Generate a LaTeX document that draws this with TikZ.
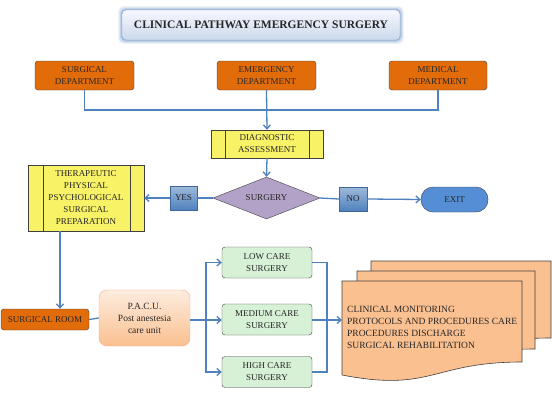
\documentclass[tikz,border=0pt]{standalone}
\usepackage{fontspec}
\setmainfont{Liberation Serif}
\usetikzlibrary{arrows.meta,shapes.geometric}
\definecolor{deptor}{HTML}{E36C0A}
\definecolor{lineblue}{HTML}{4F81BD}
\definecolor{yel}{HTML}{F8F266}
\definecolor{purp}{HTML}{B3A2C7}
\definecolor{grn}{HTML}{D7F1D6}
\definecolor{docor}{HTML}{FAC090}
\definecolor{exitb}{HTML}{558ED5}
\definecolor{edge}{HTML}{404040}
\definecolor{txt}{HTML}{262626}
\tikzset{
  base/.style={inner sep=0pt, align=center, font=\fontsize{9}{12}\selectfont, text=txt},
  dept/.style={base, draw=edge, fill=deptor, rounded corners=3pt, minimum width=99pt, minimum height=29pt},
  yelbox/.style={base, draw=edge, fill=yel},
  yn/.style={base, draw=lineblue!80!black, top color=lineblue!55!white, bottom color=lineblue, minimum width=27pt, minimum height=24pt},
  care/.style={base, draw=edge, fill=grn, rounded corners=3pt, minimum width=90pt, minimum height=31pt},
  line/.style={draw=lineblue, line width=1.3pt},
  arr/.style={line, -{Straight Barb[length=4pt,width=7pt]}},
  docshape/.style={draw=edge, fill=docor, line width=0.6pt},
}
\begin{document}
\begin{tikzpicture}[x=1pt,y=-1pt]
\useasboundingbox (0,0) rectangle (552,407);
\fill[white] (0,0) rectangle (552,407);

% title glow
\foreach \g/\o in {4/0.08,3/0.12,2/0.18,1/0.25}{
  \fill[lineblue, opacity=\o, rounded corners=5pt] (122-\g,10-\g) rectangle (400+\g,40+\g);
}
\node[base, draw=lineblue!70, top color=blue!3, bottom color=lineblue!30, rounded corners=4pt,
      minimum width=278pt, minimum height=30pt, font=\fontsize{11.5}{12}\selectfont\bfseries] (title) at (261,25) {CLINICAL PATHWAY EMERGENCY SURGERY};

% departments
\node[dept] (sd) at (84.5,75.5) {SURGICAL\\DEPARTMENT};
\node[dept] (ed) at (266.5,75.5) {EMERGENCY\\DEPARTMENT};
\node[dept, minimum width=98pt] (md) at (438,75.5) {MEDICAL\\DEPARTMENT};
\coordinate (j) at (266.5,110);

% diagnostic
\node[yelbox, minimum width=112pt, minimum height=28pt] (diag) at (267,144) {DIAGNOSTIC\\ASSESSMENT};
\draw[edge] ([xshift=14pt]diag.north west) -- ([xshift=14pt]diag.south west);
\draw[edge] ([xshift=-14pt]diag.north east) -- ([xshift=-14pt]diag.south east);

% decision
\node[base, shape=diamond, shape aspect=2.5, draw=edge, fill=purp, minimum width=107pt, minimum height=42pt] (surg) at (266.5,198) {SURGERY};

% therapeutic
\node[yelbox, minimum width=116pt, minimum height=66pt] (ther) at (86,198) {THERAPEUTIC\\PHYSICAL\\PSYCHOLOGICAL\\SURGICAL\\PREPARATION};
\draw[edge] ([xshift=15pt]ther.north west) -- ([xshift=15pt]ther.south west);
\draw[edge] ([xshift=-14pt]ther.north east) -- ([xshift=-14pt]ther.south east);

\node[yn] (yes) at (183.5,198) {YES};
\node[yn, minimum width=28pt] (no) at (353,199) {NO};
\node[base, draw=edge, fill=exitb, rounded corners=12pt, minimum width=67pt, minimum height=25pt] (exit) at (454.5,199.5) {EXIT};

% lower part
\node[base, draw=edge, fill=deptor, rounded corners=3pt, minimum width=88pt, minimum height=21pt] (room) at (45,319.5) {SURGICAL ROOM};
\node[base, draw=docor!90!red, top color=docor!30!white, bottom color=docor, rounded corners=8pt,
      minimum width=91pt, minimum height=56pt, font=\fontsize{9.5}{12}\selectfont] (pacu) at (144.5,318) {P.A.C.U.\\Post anestesia\\care unit};
\node[care] (low) at (267,262.5) {LOW CARE\\SURGERY};
\node[care] (med) at (267,319.5) {MEDIUM CARE\\SURGERY};
\node[care] (high) at (267,372) {HIGH CARE\\SURGERY};
\coordinate (bl) at (206,320);
\coordinate (br) at (327,320);

% documents
\draw[docshape] (371,261) -- (551,261) -- (551,338) .. controls (461,338) and (461,367) .. (371,352) -- cycle;
\draw[docshape] (357,271) -- (535,271) -- (535,349) .. controls (446,349) and (446,379) .. (357,361) -- cycle;
\draw[docshape] (342,281) -- (522,281) -- (522,362) .. controls (432,362) and (432,392.5) .. (342,375) -- cycle;
\coordinate (docin) at (342,320);
\node[base, anchor=west, align=left, font=\fontsize{9.5}{12}\selectfont] (doctext) at (347,327.5) {CLINICAL MONITORING\\PROTOCOLS AND PROCEDURES CARE\\PROCEDURES DISCHARGE\\SURGICAL REHABILITATION};

% connectors
\draw[line] (sd.south) |- (j) -| (md.south);
\draw[arr] (ed.south) -- (diag.north);
\draw[arr] (diag.south) -- (surg.north);
\draw[line] (surg.west) -- (yes.east);
\draw[arr] (yes.west) -- (ther.east);
\draw[line] (surg.east) -- (no.west);
\draw[arr] (no.east) -- (exit.west);
\draw[arr] ([xshift=-26pt]ther.south) -- ([xshift=-26pt]ther.south |- room.north);
\draw[line] (room.east) -- (pacu.west);
\draw[line] (pacu.east |- bl) -- (bl);
\draw[arr] (bl) |- (low.west);
\draw[arr] (bl) |- (high.west);
\draw[arr] (bl) -- (med.west |- bl);
\draw[line] (low.east) -| (br);
\draw[line] (high.east) -| (br);
\draw[line] (med.east |- br) -- (br);
\draw[arr] (br) -- (docin);
\end{tikzpicture}
\end{document}
